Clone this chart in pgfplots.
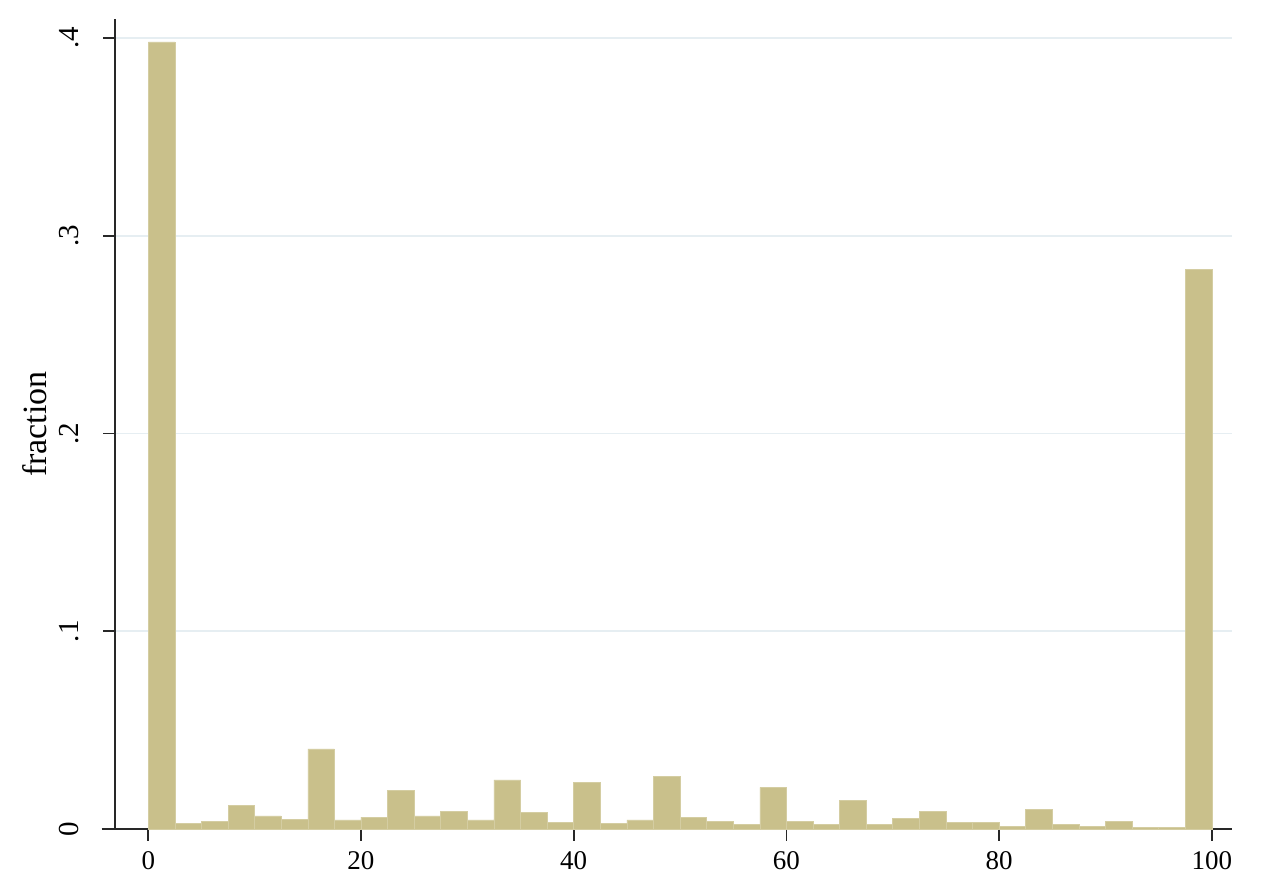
\documentclass[border=0pt]{standalone}
\usepackage{fontspec}
\setmainfont{Liberation Serif}
\usepackage{pgfplots}
\pgfplotsset{compat=1.18}
\definecolor{barc}{RGB}{201,192,139}
\definecolor{gridc}{RGB}{230,238,242}
\definecolor{axc}{RGB}{40,40,40}
\begin{document}
\begin{tikzpicture}
\useasboundingbox (-57.5pt,-31.5pt) rectangle (573.5pt,414.5pt);
\begin{axis}[
  at={(0,0)}, anchor=south west,
  scale only axis, width=558.5pt, height=405pt,
  xmin=-3.13, xmax=101.9, ymin=0, ymax=0.4096,
  axis x line*=bottom, axis y line*=left,
  axis line style={axc, line width=1pt},
  every tick/.style={axc, line width=0.9pt},
  tick align=outside, major tick length=6pt,
  xtick={0,20,40,60,80,100}, xticklabels={0,20,40,60,80,100},
  ytick={0,0.1,0.2,0.3,0.4}, yticklabels={0,.1,.2,.3,.4},
  ymajorgrids, grid style={gridc, line width=0.8pt},
  xticklabel style={font=\fontsize{13.5}{15}\selectfont},
  yticklabel style={font=\fontsize{14.5}{16}\selectfont, rotate=90, anchor=south},
  yticklabel shift=8.5pt,
  xticklabel shift=1.5pt,
  ylabel={fraction},
  ylabel style={font=\fontsize{17}{19}\selectfont, at={(axis description cs:-0.0716,0.5)}, anchor=center},
  clip=false,
]
\addplot[ybar interval, fill=barc, draw=barc!80!white, line width=0.3pt] coordinates {
(0,0.398) (2.5,0.003) (5,0.004) (7.5,0.012) (10,0.0066) (12.5,0.005)
(15,0.0405) (17.5,0.0046) (20,0.006) (22.5,0.0196) (25,0.0066) (27.5,0.0088)
(30,0.0046) (32.5,0.0248) (35,0.0084) (37.5,0.0032) (40,0.0234) (42.5,0.003)
(45,0.0046) (47.5,0.0265) (50,0.006) (52.5,0.0037) (55,0.0024) (57.5,0.021)
(60,0.0039) (62.5,0.0025) (65,0.0143) (67.5,0.0024) (70,0.0052) (72.5,0.0088)
(75,0.0034) (77.5,0.0034) (80,0.0012) (82.5,0.01) (85,0.0024) (87.5,0.0012)
(90,0.004) (92.5,0.0009) (95,0.0008) (97.5,0.283) (100,0.283)
};
\draw[axc, line width=1pt] (axis cs:-4.38,0) -- (axis cs:-3.13,0);
\end{axis}
\end{tikzpicture}
\end{document}
